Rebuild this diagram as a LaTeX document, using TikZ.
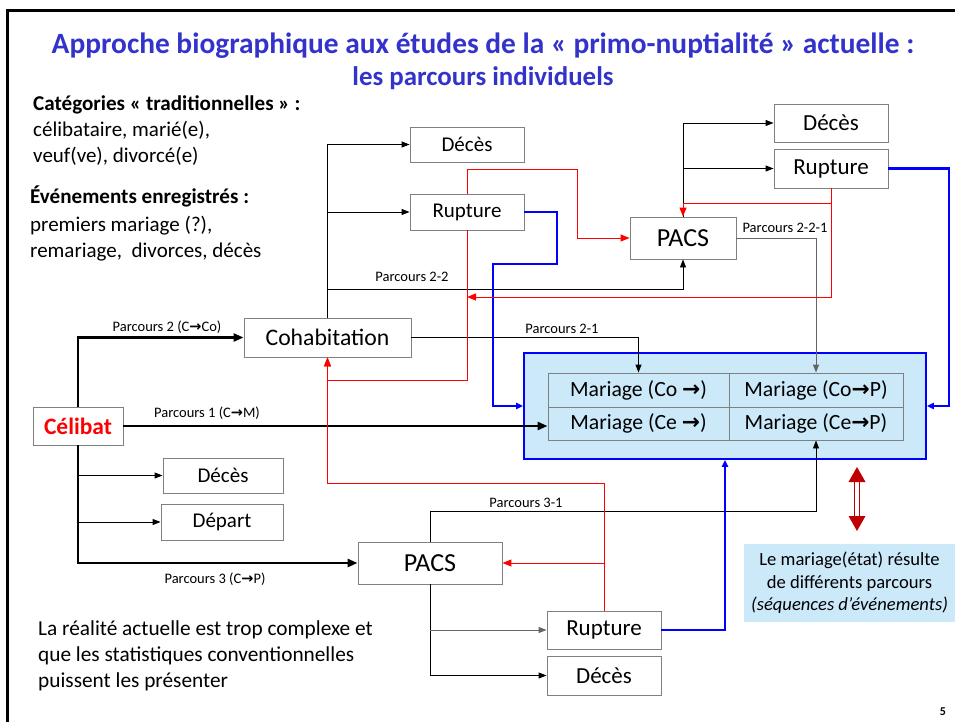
\documentclass[tikz,border=0pt]{standalone}
\usepackage{fontspec}
\setmainfont{Carlito}
\newfontfamily\arrowfont{DejaVu Sans}
\usetikzlibrary{arrows.meta}
\definecolor{titleblue}{RGB}{51,51,204}
\definecolor{boxgray}{RGB}{128,128,128}
\definecolor{lblue}{RGB}{204,233,250}
\definecolor{dred}{RGB}{192,0,0}
\definecolor{lgray}{RGB}{100,100,100}
\newcommand{\rarr}{{\arrowfont\bfseries\char"2192}}
\newcommand{\fs}[1]{\fontsize{#1}{#1}\selectfont}
\begin{document}
\begin{tikzpicture}[x=1pt,y=-1pt,
  box/.style={draw=boxgray, line width=0.9pt, fill=white, inner sep=0pt},
  cell/.style={draw=boxgray, line width=0.9pt, fill=lblue, inner sep=0pt, font=\fs{21.7}},
  thinarr/.style={line width=0.9pt, black, -{Triangle[length=8pt,width=6pt]}},
  thickarr/.style={line width=2.8pt, black, -{Triangle[length=10pt,width=8pt]}},
  bluearr/.style={line width=2.3pt, blue, -{Triangle[length=7pt,width=6pt]}},
  redarr/.style={line width=1pt, red, -{Triangle[length=9pt,width=7pt]}},
  lab/.style={font=\fs{14.5}, inner sep=0pt},
  txt/.style={font=\fs{21}, inner sep=0pt, anchor=base west},
]
\useasboundingbox (0,0) rectangle (955,722);
% frame
\draw[line width=3pt] (7,722) -- (7,11) -- (955,11);

% title
\node[font=\bfseries\fs{29.4}, text=titleblue, inner sep=0pt, anchor=base] (t1) at (483,54)
  {Approche biographique aux études de la « primo-nuptialité » actuelle :};
\node[font=\bfseries\fs{26.9}, text=titleblue, inner sep=0pt, anchor=base] (t2) at (483,86)
  {les parcours individuels};

% left text
\node[txt, font=\bfseries\fs{21.1}] (l1) at (33,111) {Catégories « traditionnelles » :};
\node[txt] (l2) at (33,137) {célibataire, marié(e),};
\node[txt] (l3) at (33,163) {veuf(ve), divorcé(e)};
\node[txt, font=\bfseries\fs{21.1}] (l4) at (30,204) {Événements enregistrés :};
\node[txt] (l5) at (30,231) {premiers mariage (?),};
\node[txt] (l6) at (30,257) {remariage,\ \ divorces, décès};

\node[txt, font=\fs{21.3}] (b1) at (38,635) {La réalité actuelle est trop complexe et};
\node[txt, font=\fs{21.3}] (b2) at (38,661) {que les statistiques conventionnelles};
\node[txt, font=\fs{21.3}] (b3) at (38,687) {puissent les présenter};

% mariage box
\node[draw=blue, line width=1.6pt, fill=lblue, minimum width=402pt, minimum height=106pt, inner sep=0pt] (mar) at (725,406) {};
\node[cell, minimum width=181pt, minimum height=34pt] (m11) at (638.5,390) {Mariage (Co \rarr)};
\node[cell, minimum width=174pt, minimum height=34pt] (m12) at (816,390) {Mariage (Co\rarr P)};
\node[cell, minimum width=181pt, minimum height=33pt] (m21) at (638.5,423.5) {Mariage (Ce \rarr)};
\node[cell, minimum width=174pt, minimum height=33pt] (m22) at (816,423.5) {Mariage (Ce\rarr P)};

% boxes
\node[box, minimum width=114pt, minimum height=35pt, font=\fs{21}] (decesA) at (467,144.5) {Décès};
\node[box, minimum width=114pt, minimum height=36pt, font=\fs{21}] (ruptA) at (467,212) {Rupture};
\node[box, minimum width=106pt, minimum height=42pt, font=\fs{26}] (pacsA) at (683,238) {PACS};
\node[box, minimum width=114pt, minimum height=38pt, font=\fs{23}] (decesB) at (831,123) {Décès};
\node[box, minimum width=114pt, minimum height=39pt, font=\fs{23}] (ruptB) at (831,168.5) {Rupture};
\node[box, minimum width=167pt, minimum height=39pt, font=\fs{23.7}] (cohab) at (327.5,337.5) {Cohabitation};
\node[box, minimum width=90pt, minimum height=38pt, font=\bfseries\fs{23.5}, text=red] (celibat) at (78,426) {Célibat};
\node[box, minimum width=120pt, minimum height=35pt, font=\fs{21}] (decesC) at (223,475.5) {Décès};
\node[box, minimum width=122pt, minimum height=36pt, font=\fs{21}] (depart) at (222,522) {Départ};
\node[box, minimum width=144pt, minimum height=42pt, font=\fs{26}] (pacsB) at (430,563) {PACS};
\node[box, minimum width=114pt, minimum height=38pt, font=\fs{23}] (ruptC) at (604,630) {Rupture};
\node[box, minimum width=114pt, minimum height=39pt, font=\fs{23}] (decesD) at (604,675.5) {Décès};

% note
\node[fill=lblue, minimum width=211pt, minimum height=78pt, inner sep=0pt, align=center, font=\fontsize{18.6}{22.5}\selectfont] (note) at (849.5,583)
  {Le mariage(état) résulte\\de différents parcours\\\textit{(séquences d’événements)}};
\node[font=\bfseries\fs{12}, inner sep=0pt] (pg) at (943,712) {5};

% black connectors from Célibat
\draw[thickarr] (celibat.north) |- (cohab.west);
\draw[thickarr] (celibat.south) |- (pacsB.west);
\draw[thickarr] (celibat.east) -- (celibat.east -| m21.west);
\draw[thinarr] (decesC.west -| celibat.south) -- (decesC.west);
\draw[thinarr] (depart.west -| celibat.south) -- (depart.west);
\node[lab] (lp2) at (167,327) {Parcours 2 (C\rarr Co)};
\node[lab] (lp1) at (207,413) {Parcours 1 (C\rarr M)};
\node[lab] (lp3) at (215,579) {Parcours 3 (C\rarr P)};

% from Cohabitation
\draw[thinarr] (cohab.north) |- (decesA.west);
\draw[thinarr] (ruptA.west -| cohab.north) -- (ruptA.west);
\coordinate (p22) at (327.5,289);
\draw[thinarr] (p22) -| (pacsA.south);
\node[lab] (lp22) at (412,277) {Parcours 2-2};
\draw[thinarr] (cohab.east) -| (m11.north);
\node[lab] (lp21) at (562,329) {Parcours 2-1};

% from PACS top
\draw[thinarr] (pacsA.north) |- (decesB.west);
\draw[thinarr] (ruptB.west -| pacsA.north) -- (ruptB.west);
\draw[thinarr, lgray] (pacsA.east) -| (m12.north);
\node[lab] (lp221) at (785,228) {Parcours 2-2-1};

% from PACS bottom
\draw[thinarr] (pacsB.north) -- ++(0,-30) -| (m22.south);
\node[lab] (lp31) at (526,503) {Parcours 3-1};
\draw[thinarr] (pacsB.south) |- (decesD.west);
\draw[thinarr, lgray] (ruptC.west -| pacsB.south) -- (ruptC.west);

% blue connectors
\draw[bluearr] (ruptA.east) -- (557,212) -- (557,264) -- (493,264) |- (mar.west);
\draw[bluearr] (ruptB.east) -- (949,168.5) |- (mar.east);
\draw[bluearr] (ruptC.east) -| (mar.south);

% red connectors
\draw[redarr] (ruptA.north) |- (577,170) |- (pacsA.west);
\draw[redarr] (ruptA.south) |- (327.5,380) -- (cohab.south);
\draw[redarr] (ruptB.south) |- (683,203) -- (pacsA.north);
\draw[redarr] (ruptB.south) |- (467,297);
\draw[redarr] (ruptC.north) |- (327.5,483) -- (cohab.south);
\draw[redarr] (ruptC.north |- pacsB.east) -- (pacsB.east);

% double red arrow
\fill[dred] (857,467) -- (865.5,482) -- (848.5,482) -- cycle;
\fill[dred] (857,531) -- (865.5,516) -- (848.5,516) -- cycle;
\draw[dred, line width=0.9pt] (854.5,482) -- (854.5,516) (859.5,482) -- (859.5,516);
\end{tikzpicture}
\end{document}
